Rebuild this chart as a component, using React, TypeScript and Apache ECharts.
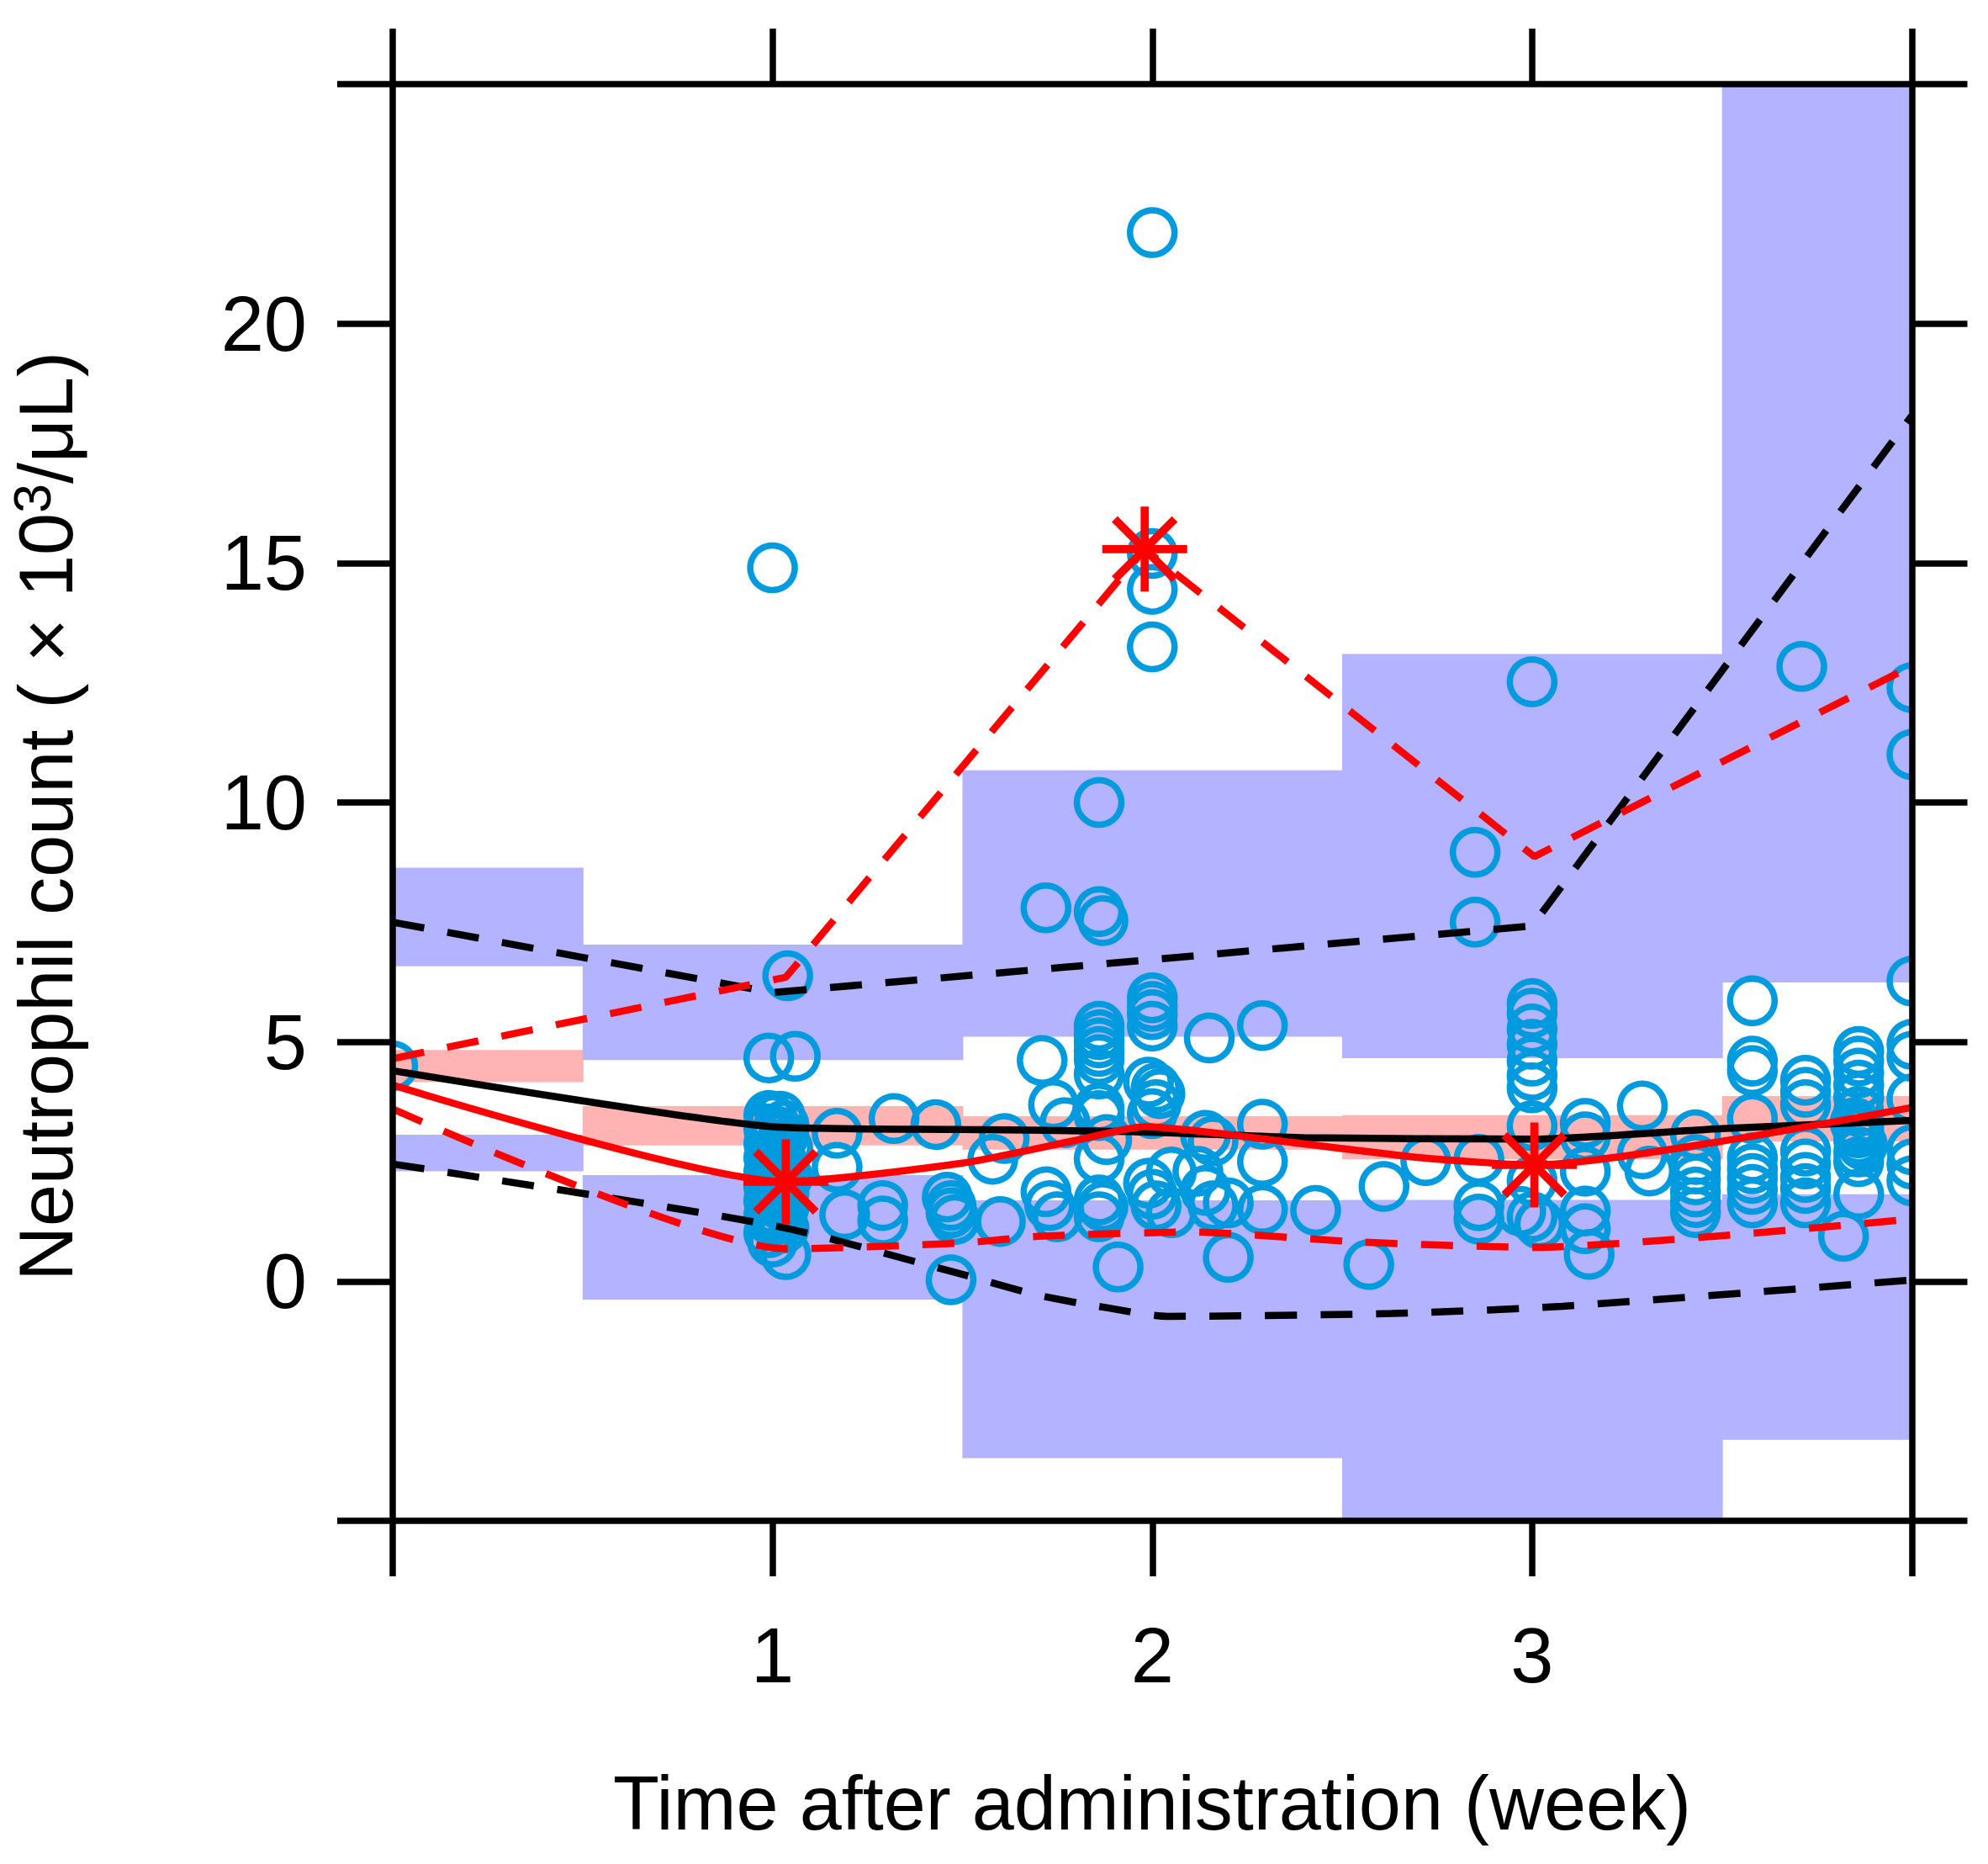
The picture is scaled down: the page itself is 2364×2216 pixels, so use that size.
import React, { useEffect, useRef } from "react";
import * as echarts from "echarts";

// ---------- data ----------
const X_TICK_LABELS = [1, 2, 3];
const Y_TICK_LABELS = [0, 5, 10, 15, 20];
const X_TITLE = "Time after administration (week)";
const Y_TITLE_MAIN = "Neutrophil count ( \u00d7 10";
const Y_TITLE_SUP = "3";
const Y_TITLE_END = "/\u03bcL)";

// time bins (week)
const BIN_EDGES = [0, 0.5, 1.5, 2.5, 3.5, 4];
// prediction interval of the upper percentile
const UPPER_LO = [6.58, 4.62, 5.11, 4.66, 6.24];
const UPPER_HI = [8.64, 7.03, 10.67, 13.1, 30];
// prediction interval of the median
const MEDIAN_LO = [4.16, 2.84, 2.75, 2.55, 2.92];
const MEDIAN_HI = [4.83, 3.66, 3.45, 3.47, 3.87];
// prediction interval of the lower percentile
const LOWER_LO = [2.3, -0.38, -3.69, -6, -3.31];
const LOWER_HI = [3.06, 2.22, 1.69, 1.7, 1.82];

// simulated percentiles (black)
const SIM_MEDIAN = [[0, 4.4], [1, 3.23], [1.5, 3.17], [1.94, 3.13], [2.4, 3.0], [3, 2.97], [3.5, 3.19], [4, 3.36]];
const SIM_P95 = [[0, 7.5], [1, 6.03], [2, 6.72], [3, 7.42], [4, 18.08]];
const SIM_P5 = [[0, 2.45], [1, 1.17], [1.47, 0.21], [1.7, -0.29], [1.88, -0.55], [2.04, -0.73], [2.63, -0.67], [3.08, -0.52], [4, 0.03]];

// observed percentiles (red)
const OBS_MEDIAN = [[0, 4.1], [1.035, 2.08], [1.5, 2.47], [1.79, 2.93], [1.98, 3.23], [2.4, 2.87], [2.71, 2.58], [3.006, 2.43], [4, 3.63]];
const OBS_P95 = [[0, 4.65], [1.035, 6.35], [1.98, 15.29], [3.006, 8.87], [4, 12.85]];
const OBS_P5 = [[0, 3.6], [1.035, 0.68], [1.5, 0.8], [1.7, 0.94], [2.1, 1.03], [2.55, 0.82], [3.006, 0.71], [4, 1.3]];

// observed percentiles outside their prediction interval
const STARS = [[1.035, 2.08], [1.98, 15.29], [3.006, 2.43]];

// observations
const OBS = [
  [0.0, 4.5],
  [1.0, 14.9],
  [1.04, 6.38],
  [0.99, 4.7], [1.06, 4.7],
  [0.99, 3.5], [1.02, 3.45], [1.0, 3.38], [1.03, 3.3], [0.99, 3.22], [1.01, 3.15], [1.03, 3.08], [1.0, 3.0],
  [0.99, 2.92], [1.02, 2.85], [1.04, 2.78], [1.0, 2.7], [0.99, 2.62], [1.02, 2.55], [1.03, 2.47], [1.0, 2.4],
  [0.99, 2.32], [1.02, 2.25], [1.04, 2.18], [1.0, 2.1], [0.99, 2.02], [1.02, 1.95], [1.03, 1.88], [1.0, 1.8],
  [0.99, 1.72], [1.02, 1.65], [1.03, 1.58], [1.0, 1.5], [0.99, 1.42], [1.02, 1.35], [1.0, 1.25], [1.03, 1.15],
  [0.99, 1.05], [1.0, 0.82], [1.035, 0.56],
  [1.17, 3.11], [1.17, 2.4], [1.19, 1.41],
  [1.29, 1.62], [1.29, 1.3],
  [1.32, 3.4], [1.43, 3.31],
  [1.46, 1.76], [1.47, 1.6], [1.47, 1.45], [1.48, 1.29],
  [1.47, 0.05],
  [1.58, 2.55], [1.6, 1.25], [1.61, 3.0],
  [1.71, 4.63], [1.74, 3.69], [1.77, 3.35], [1.72, 1.87], [1.73, 1.6], [1.75, 1.35],
  [1.72, 7.8],
  [1.86, 10.0], [1.86, 7.72], [1.87, 7.55],
  [1.86, 5.33], [1.86, 5.15], [1.86, 4.98], [1.86, 4.8], [1.86, 4.63], [1.86, 4.33],
  [1.86, 3.62], [1.86, 3.46], [1.88, 2.96], [1.86, 2.56],
  [1.86, 1.7], [1.87, 1.58], [1.86, 1.35],
  [1.91, 0.3],
  [2.0, 21.9], [2.0, 15.2], [2.0, 14.45], [2.0, 13.25],
  [2.0, 5.92], [2.0, 5.74], [2.0, 5.57], [2.0, 5.33],
  [1.99, 4.16], [2.01, 4.04], [2.02, 3.92], [2.01, 3.69], [2.0, 3.5],
  [2.0, 1.82], [2.01, 1.58], [1.99, 2.05],
  [2.05, 2.3], [2.05, 1.45],
  [2.15, 5.1], [2.14, 3.05], [2.16, 2.93], [2.12, 2.3], [2.14, 1.9],
  [2.16, 1.58], [2.2, 1.64],
  [2.2, 0.5],
  [2.29, 5.36], [2.29, 3.3], [2.29, 2.52], [2.29, 1.52],
  [2.43, 1.5],
  [2.57, 0.37],
  [2.61, 2.0],
  [2.72, 2.52],
  [2.85, 8.96], [2.85, 7.5],
  [2.86, 2.55], [2.86, 1.58], [2.86, 1.3],
  [3.0, 12.52], [3.0, 5.8], [3.0, 5.6], [3.0, 5.27], [3.0, 4.95], [3.0, 4.6], [3.0, 4.3], [3.0, 4.04],
  [3.0, 3.25], [3.0, 2.1], [2.97, 1.5], [3.0, 1.35], [3.02, 1.2],
  [3.14, 3.3], [3.14, 3.02], [3.14, 2.3], [3.14, 1.47], [3.14, 1.1], [3.15, 0.6],
  [3.29, 3.7], [3.29, 2.7], [3.31, 2.34],
  [3.43, 3.1], [3.43, 2.58], [3.43, 2.38], [3.43, 2.15], [3.43, 1.9], [3.43, 1.68], [3.43, 1.47],
  [3.58, 5.86], [3.58, 4.6], [3.58, 4.4], [3.58, 3.4], [3.58, 2.58], [3.58, 2.35], [3.58, 2.15], [3.58, 1.92], [3.58, 1.64],
  [3.71, 12.84],
  [3.72, 4.2], [3.72, 3.95], [3.72, 3.69], [3.72, 2.72], [3.72, 2.45], [3.72, 2.17], [3.72, 1.94], [3.72, 1.64],
  [3.82, 0.94],
  [3.86, 4.8], [3.86, 4.6], [3.86, 4.35], [3.86, 4.1], [3.86, 3.85], [3.86, 3.55], [3.85, 3.35], [3.86, 3.22],
  [3.86, 3.1], [3.86, 2.95], [3.87, 2.85], [3.86, 2.7], [3.86, 2.5], [3.86, 1.82],
  [4.0, 12.4], [4.0, 11.0], [4.0, 6.27], [4.0, 4.95], [4.0, 4.7], [4.0, 3.81], [4.0, 2.75], [4.0, 2.45], [4.0, 2.1],
];

// ---------- styling ----------
const FONT = '"Liberation Sans", Arial, Helvetica, sans-serif';
const BLUE = "#b3b3ff";
const PINK = "#ffb3b3";
const RED = "#ff0000";
const CIRCLE = "#009bde";
const DASH = [38, 28];
const LINE_W = 8.5;

function starPath(L: number, w: number): string {
  let d = "";
  for (const deg of [0, 45, 90, 135]) {
    const t = (deg * Math.PI) / 180;
    const dx = Math.cos(t), dy = Math.sin(t);
    const nx = -dy, ny = dx;
    const pts = [
      [-L * dx - w * nx, -L * dy - w * ny],
      [L * dx - w * nx, L * dy - w * ny],
      [L * dx + w * nx, L * dy + w * ny],
      [-L * dx + w * nx, -L * dy + w * ny],
    ];
    d += "M" + pts.map((p) => p[0].toFixed(3) + " " + p[1].toFixed(3)).join(" L") + " Z ";
  }
  return "path://" + d;
}

export default function App() {
  const ref = useRef<HTMLDivElement>(null);

  useEffect(() => {
    document.body.style.margin = "0";
    const el = ref.current as HTMLDivElement;
    const chart = echarts.init(el, null, { renderer: "svg" });

    const bands: number[][] = [];
    for (let i = 0; i < BIN_EDGES.length - 1; i++) {
      const x0 = BIN_EDGES[i], x1 = BIN_EDGES[i + 1];
      bands.push([x0, x1, UPPER_LO[i], UPPER_HI[i], 0]);
      bands.push([x0, x1, MEDIAN_LO[i], MEDIAN_HI[i], 1]);
      bands.push([x0, x1, LOWER_LO[i], LOWER_HI[i], 0]);
    }

    const ctx = document.createElement("canvas").getContext("2d") as CanvasRenderingContext2D;
    ctx.font = '90px "Liberation Sans"';
    const w1 = ctx.measureText(Y_TITLE_MAIN).width;
    ctx.font = '63px "Liberation Sans"';
    const w2 = ctx.measureText(Y_TITLE_SUP).width;
    const yStart = 1523;

    const axisBase = {
      type: "value",
      axisLine: { show: true, onZero: false, lineStyle: { color: "#000", width: 7.5 } },
      axisTick: { show: true, inside: false, length: 66, lineStyle: { color: "#000", width: 7.5 } },
      splitLine: { show: false },
      z: 10,
    };

    const lineSeries = (data: number[][], color: string, dashed: boolean, smooth: number, z: number) => ({
      type: "line",
      data,
      showSymbol: false,
      symbol: "none",
      smooth,
      clip: true,
      silent: true,
      z,
      lineStyle: { color, width: LINE_W, type: dashed ? DASH : "solid", cap: "butt" },
    });

    const option: any = {
      animation: false,
      backgroundColor: "#ffffff",
      grid: { left: 467, top: 100, right: 90.5, bottom: 408, containLabel: false, outerBoundsMode: "none", show: false },
      xAxis: [
        {
          ...axisBase,
          position: "bottom",
          min: 0,
          max: 4,
          interval: 1,
          axisLabel: {
            show: true,
            margin: 114,
            fontSize: 92,
            lineHeight: 92,
            fontFamily: FONT,
            color: "#000",
            formatter: (v: number) => (X_TICK_LABELS.indexOf(v) >= 0 ? String(v) : ""),
          },
        },
        {
          ...axisBase,
          position: "top",
          min: 0,
          max: 4,
          interval: 1,
          axisLabel: { show: false },
        },
      ],
      yAxis: [
        {
          ...axisBase,
          position: "left",
          min: -5,
          max: 25,
          interval: 5,
          axisLabel: {
            show: true,
            margin: 102,
            fontSize: 92,
            lineHeight: 92,
            fontFamily: FONT,
            color: "#000",
            formatter: (v: number) => (Y_TICK_LABELS.indexOf(v) >= 0 ? String(v) : ""),
          },
        },
        {
          ...axisBase,
          position: "right",
          min: -5,
          max: 25,
          interval: 5,
          axisLabel: { show: false },
        },
      ],
      series: [
        {
          type: "custom",
          data: bands,
          encode: { x: [0, 1], y: [2, 3] },
          clip: true,
          silent: true,
          z: 1,
          renderItem: (params: any, api: any) => {
            const p0 = api.coord([api.value(0), api.value(3)]);
            const p1 = api.coord([api.value(1), api.value(2)]);
            const cs = params.coordSys;
            const rect = echarts.graphic.clipRectByRect(
              { x: p0[0], y: p0[1], width: p1[0] - p0[0] + 1, height: p1[1] - p0[1] },
              { x: cs.x, y: cs.y, width: cs.width, height: cs.height }
            );
            if (!rect) return null;
            return { type: "rect", shape: rect, style: { fill: api.value(4) === 1 ? PINK : BLUE } };
          },
        },
        {
          type: "custom",
          data: OBS,
          encode: { x: 0, y: 1 },
          clip: true,
          silent: true,
          z: 3,
          renderItem: (params: any, api: any) => {
            const p = api.coord([api.value(0), api.value(1)]);
            return {
              type: "circle",
              shape: { cx: p[0], cy: p[1], r: 26.5 },
              style: { fill: "none", stroke: CIRCLE, lineWidth: 7.5 },
            };
          },
        },
        lineSeries(SIM_MEDIAN, "#000", false, 0.2, 4),
        lineSeries(SIM_P95, "#000", true, 0, 4),
        lineSeries(SIM_P5, "#000", true, 0.25, 4),
        lineSeries(OBS_MEDIAN, RED, false, 0.2, 5),
        lineSeries(OBS_P95, RED, true, 0, 5),
        lineSeries(OBS_P5, RED, true, 0.2, 5),
        {
          type: "scatter",
          data: STARS,
          symbol: starPath(50, 4.8),
          symbolSize: 101,
          clip: true,
          silent: true,
          z: 6,
          itemStyle: { color: RED, opacity: 1 },
        },
      ],
      graphic: [
        {
          type: "text",
          x: 1370,
          y: 2144,
          silent: true,
          style: {
            text: X_TITLE,
            fontSize: 90,
            fontFamily: FONT,
            fill: "#000",
            align: "center",
            verticalAlign: "middle",
            textAlign: "center",
            textVerticalAlign: "middle",
          },
        },
        {
          type: "text",
          x: 55,
          y: yStart,
          rotation: Math.PI / 2,
          silent: true,
          style: {
            text: Y_TITLE_MAIN,
            fontSize: 90,
            fontFamily: FONT,
            fill: "#000",
            align: "left",
            verticalAlign: "middle",
            textAlign: "left",
            textVerticalAlign: "middle",
          },
        },
        {
          type: "text",
          x: 38,
          y: yStart - w1,
          rotation: Math.PI / 2,
          silent: true,
          style: {
            text: Y_TITLE_SUP,
            fontSize: 63,
            fontFamily: FONT,
            fill: "#000",
            align: "left",
            verticalAlign: "middle",
            textAlign: "left",
            textVerticalAlign: "middle",
          },
        },
        {
          type: "text",
          x: 55,
          y: yStart - w1 - w2,
          rotation: Math.PI / 2,
          silent: true,
          style: {
            text: Y_TITLE_END,
            fontSize: 90,
            fontFamily: FONT,
            fill: "#000",
            align: "left",
            verticalAlign: "middle",
            textAlign: "left",
            textVerticalAlign: "middle",
          },
        },
      ],
    };

    chart.setOption(option);
    return () => {
      chart.dispose();
    };
  }, []);

  return <div ref={ref} style={{ width: 2364, height: 2216 }} />;
}
